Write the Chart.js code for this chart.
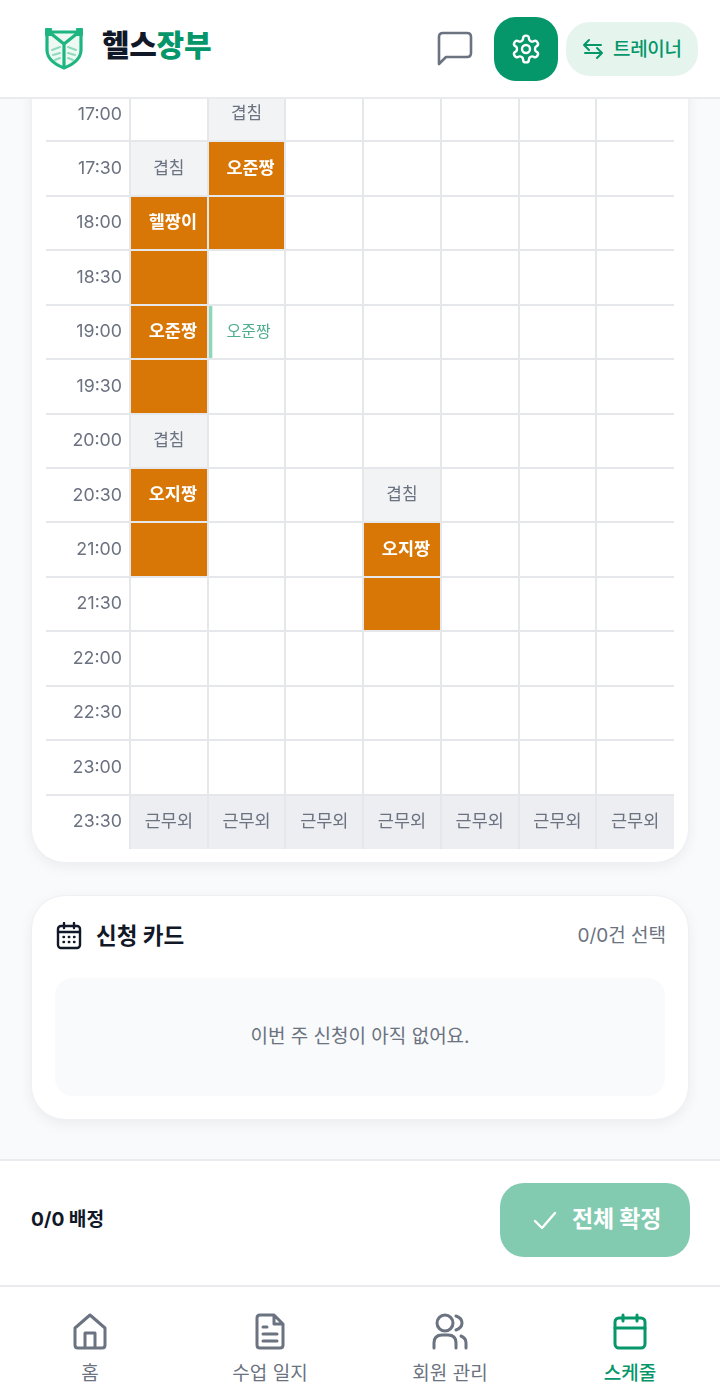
<!DOCTYPE html>
<html lang="ko">
<head>
<meta charset="utf-8">
<title>헬스장부 스케줄</title>
<script src="https://cdn.jsdelivr.net/npm/chart.js@4"></script>
<style>
  html, body { margin: 0; padding: 0; }
  body { width: 720px; height: 1400px; position: relative; overflow: hidden; background: #f9fafb;
    font-family: Inter, "Noto Sans CJK KR", sans-serif; color: #6b7280; }
  .box { position: absolute; box-sizing: border-box; }
  .txt { position: absolute; white-space: nowrap; line-height: 1; }
  .mid { transform: translateX(-50%); }
  .card { background: #fff; border: 1px solid #eef0f3; box-shadow: 0 4px 14px rgba(17, 24, 39, .06); }
  svg { position: absolute; fill: none; stroke-linecap: round; stroke-linejoin: round; }
  canvas { position: absolute; left: 46px; top: 87px; }
</style>
</head>
<body>

<!-- schedule card -->
<div class="box card" style="left:31px;top:40px;width:658px;height:823px;border-radius:34px"></div>
<canvas id="schedule" width="628" height="762"></canvas>

<!-- header -->
<div class="box" style="left:0;top:0;width:720px;height:99px;background:#fff;border-bottom:2px solid #e9ebee"></div>
<svg style="left:43px;top:26px" width="42" height="44" viewBox="0 0 42 44" stroke="#1fb583" stroke-width="3.2">
  <path d="M4 6 V24 C4 33 13 39 21 42 C29 39 38 33 38 24 V6" fill="#eef9f4"/>
  <path d="M5 6 H37 M6 6 L21 18 L36 6 M21 18 V41" />
  <path d="M3 3 H8 V9 H3 Z M34 3 H39 V9 H34 Z" fill="#1fb583" stroke-width="2"/>
  <path d="M9 24 L17 21 M10 29 L17 27 M33 24 L25 21 M32 29 L25 27 M12 34 L17 32 M30 34 L25 32" stroke="#8edbbd" stroke-width="2"/>
</svg>
<div class="txt" style="left:102px;top:30px;font-size:30px;font-weight:900;color:#111827;letter-spacing:-.3px">헬스<span style="color:#059669">장부</span></div>
<svg style="left:436px;top:31px" width="37" height="37" viewBox="0 0 37 37" stroke="#6b7280" stroke-width="2.6">
  <path d="M3 33 V6 Q3 2 7 2 H31 Q35 2 35 6 V22 Q35 26 31 26 H10 Z"/>
</svg>
<div class="box" style="left:494px;top:17px;width:64px;height:64px;border-radius:22px;background:#059669"></div>
<svg style="left:510px;top:33px" width="32" height="32" viewBox="0 0 24 24" stroke="#fff" stroke-width="1.8">
  <path d="M12.2 2h-.4a2 2 0 0 0-2 2v.2a2 2 0 0 1-1 1.7l-.4.3a2 2 0 0 1-2 0l-.2-.1a2 2 0 0 0-2.7.7l-.2.4a2 2 0 0 0 .7 2.7l.2.1a2 2 0 0 1 1 1.7v.6a2 2 0 0 1-1 1.7l-.2.1a2 2 0 0 0-.7 2.7l.2.4a2 2 0 0 0 2.7.7l.2-.1a2 2 0 0 1 2 0l.4.3a2 2 0 0 1 1 1.7v.2a2 2 0 0 0 2 2h.4a2 2 0 0 0 2-2v-.2a2 2 0 0 1 1-1.7l.4-.3a2 2 0 0 1 2 0l.2.1a2 2 0 0 0 2.7-.7l.2-.4a2 2 0 0 0-.7-2.7l-.2-.1a2 2 0 0 1-1-1.7v-.6a2 2 0 0 1 1-1.7l.2-.1a2 2 0 0 0 .7-2.7l-.2-.4a2 2 0 0 0-2.7-.7l-.2.1a2 2 0 0 1-2 0l-.4-.3a2 2 0 0 1-1-1.7V4a2 2 0 0 0-2-2z"/>
  <circle cx="12" cy="12" r="3"/>
</svg>
<div class="box" style="left:566px;top:22px;width:132px;height:54px;border-radius:24px;background:#e6f4ee"></div>
<svg style="left:581px;top:37px" width="24" height="24" viewBox="0 0 24 24" stroke="#059669" stroke-width="2">
  <path d="M8 3 L3 8 L8 13 M3 8 H20 M16 11 L21 16 L16 21 M21 16 H4"/>
</svg>
<div class="txt" style="left:613px;top:40px;font-size:19px;font-weight:500;color:#059669;letter-spacing:-.3px">트레이너</div>

<!-- request card -->
<div class="box card" style="left:31px;top:895px;width:658px;height:225px;border-radius:34px"></div>
<svg style="left:56px;top:922px" width="26" height="28" viewBox="0 0 26 28" stroke="#111827" stroke-width="2.4">
  <rect x="2" y="4" width="22" height="22" rx="3"/>
  <path d="M2 10 H24 M8 1 V6 M18 1 V6 M7.5 15 H8 M12.8 15 H13.3 M18 15 H18.5 M7.5 20 H8 M12.8 20 H13.3 M18 20 H18.5"/>
</svg>
<div class="txt" style="left:96px;top:925px;font-size:22.5px;font-weight:700;color:#111827">신청 카드</div>
<div class="txt" style="right:54px;top:926px;font-size:19px">0/0건 선택</div>
<div class="box" style="left:55px;top:978px;width:610px;height:118px;border-radius:18px;background:#f9fafb"></div>
<div class="txt mid" style="left:360px;top:1027px;font-size:19px">이번 주 신청이 아직 없어요.</div>

<!-- confirm bar -->
<div class="box" style="left:0;top:1159px;width:720px;height:128px;background:#fff;border-top:2px solid #e9ebee;border-bottom:2px solid #e9ebee"></div>
<div class="txt" style="left:31px;top:1210px;font-size:19.2px;font-weight:700;color:#111827">0/0 배정</div>
<div class="box" style="left:500px;top:1183px;width:190px;height:74px;border-radius:24px;background:#82cbb0"></div>
<svg style="left:532px;top:1207px" width="26" height="26" viewBox="0 0 26 26" stroke="#fff" stroke-width="2.4"><path d="M3 14 L10 21 L23 6"/></svg>
<div class="txt" style="left:572px;top:1208px;font-size:23px;font-weight:700;color:#fff;letter-spacing:-.2px">전체 확정</div>

<!-- bottom nav -->
<div class="box" style="left:0;top:1287px;width:720px;height:113px;background:#fff"></div>
<svg style="left:72px;top:1313px" width="36" height="38" viewBox="0 0 36 38" stroke="#6b7280" stroke-width="3">
  <path d="M3 15 L18 2 L33 15 V32 Q33 35 30 35 H6 Q3 35 3 32 Z M13 35 V20 H23 V35"/>
</svg>
<svg style="left:252px;top:1313px" width="36" height="38" viewBox="0 0 36 38" stroke="#6b7280" stroke-width="3">
  <path d="M22 2 H8 Q5 2 5 5 V32 Q5 35 8 35 H28 Q31 35 31 32 V11 Z M22 2 V11 H31 M11 14 H15 M11 21 H25 M11 28 H25"/>
</svg>
<svg style="left:432px;top:1313px" width="36" height="38" viewBox="0 0 36 38" stroke="#6b7280" stroke-width="3">
  <circle cx="13" cy="10" r="8"/>
  <path d="M2 35 V30 Q2 22 10 22 H16 Q24 22 24 30 V35 M24 3 Q30 5 30 10 Q30 15 24 17 M29 23 Q34 25 34 30 V35"/>
</svg>
<svg style="left:612px;top:1313px" width="36" height="38" viewBox="0 0 36 38" stroke="#059669" stroke-width="3">
  <rect x="3" y="5" width="30" height="30" rx="4"/>
  <path d="M3 15 H33 M11 2 V8 M25 2 V8"/>
</svg>
<div class="txt mid" style="left:90px;top:1364px;font-size:19px">홈</div>
<div class="txt mid" style="left:270px;top:1364px;font-size:19px">수업 일지</div>
<div class="txt mid" style="left:450px;top:1364px;font-size:19px">회원 관리</div>
<div class="txt mid" style="left:630px;top:1364px;font-size:19px;font-weight:500;color:#059669">스케줄</div>

<script>
'use strict';

// Global Values
let times = ['17:00', '17:30', '18:00', '18:30', '19:00', '19:30', '20:00', '20:30', '21:00', '21:30', '22:00', '22:30', '23:00', '23:30'];
let dayCount = 7;

// [day column, time, label]
let conflictCells = [[1, '17:00', '겹침'], [0, '17:30', '겹침'], [0, '20:00', '겹침'], [3, '20:30', '겹침']];
let bookedCells = [
  [1, '17:30', '오준짱'], [1, '18:00', ''],
  [0, '18:00', '헬짱이'], [0, '18:30', ''],
  [0, '19:00', '오준짱'], [0, '19:30', ''],
  [0, '20:30', '오지짱'], [0, '21:00', ''],
  [3, '21:00', '오지짱'], [3, '21:30', '']
];
let pendingCells = [[1, '19:00', '오준짱']];
let offCells = [[0, '23:30', '근무외'], [1, '23:30', '근무외'], [2, '23:30', '근무외'], [3, '23:30', '근무외'], [4, '23:30', '근무외'], [5, '23:30', '근무외'], [6, '23:30', '근무외']];

let fontFamily = 'Inter, "Noto Sans CJK KR", sans-serif';

function toBars(cells, width) {
  return cells.map(function (c) {
    return { x: [c[0], c[0] + width], y: c[1] };
  });
}

function cellSet(cells, color, width) {
  return {
    data: toBars(cells, width),
    backgroundColor: color,
    barPercentage: 1,
    categoryPercentage: 1,
    grouped: false,
    borderWidth: 0
  };
}

// names inside the cells
let cellLabels = {
  id: 'cellLabels',
  afterDraw: function (chart) {
    let ctx = chart.ctx;
    let xs = chart.scales.x;
    let ys = chart.scales.y;
    function put(cells, font, color, shift) {
      cells.forEach(function (c) {
        ctx.font = font;
        ctx.fillStyle = color;
        ctx.textAlign = 'center';
        ctx.textBaseline = 'middle';
        ctx.fillText(c[2], xs.getPixelForValue(c[0] + 0.5) + shift, ys.getPixelForValue(c[1]));
      });
    }
    put(conflictCells, '17px ' + fontFamily, '#6b7280', 0);
    put(bookedCells, '700 17.5px ' + fontFamily, '#ffffff', 4);
    put(pendingCells, '16px ' + fontFamily, '#4fae8c', 2);
    put(offCells, '17.5px ' + fontFamily, '#6b7280', 0);
  }
};

new Chart(document.getElementById('schedule'), {
  type: 'bar',
  plugins: [cellLabels],
  data: {
    labels: times,
    datasets: [
      cellSet(conflictCells, '#f1f3f5', 1),
      cellSet(bookedCells, '#d97706', 1),
      cellSet(offCells, '#eceef2', 1),
      cellSet(pendingCells, '#8fd6ba', 0.055)
    ]
  },
  options: {
    indexAxis: 'y',
    responsive: false,
    animation: false,
    layout: { padding: 0 },
    plugins: { legend: { display: false }, tooltip: { enabled: false } },
    scales: {
      x: {
        type: 'linear',
        min: 0,
        max: dayCount,
        ticks: { display: false, stepSize: 1 },
        border: { display: false },
        grid: {
          z: 1,
          drawTicks: false,
          lineWidth: 2,
          color: function (c) { return c.index === dayCount ? 'rgba(0,0,0,0)' : '#e5e7eb'; }
        }
      },
      y: {
        type: 'category',
        offset: true,
        afterFit: function (scale) { scale.width = 84; },
        border: { display: false },
        ticks: {
          color: '#6b7280',
          padding: -76,
          crossAlign: 'near',
          autoSkip: false,
          font: { family: fontFamily, size: 17.8 }
        },
        grid: {
          z: 1,
          offset: true,
          tickLength: 84,
          lineWidth: 2,
          // the closing line under the last row has no tick context
          color: function (c) { return c.tick ? '#e5e7eb' : 'rgba(0,0,0,0)'; }
        }
      }
    }
  }
});
</script>
</body>
</html>
